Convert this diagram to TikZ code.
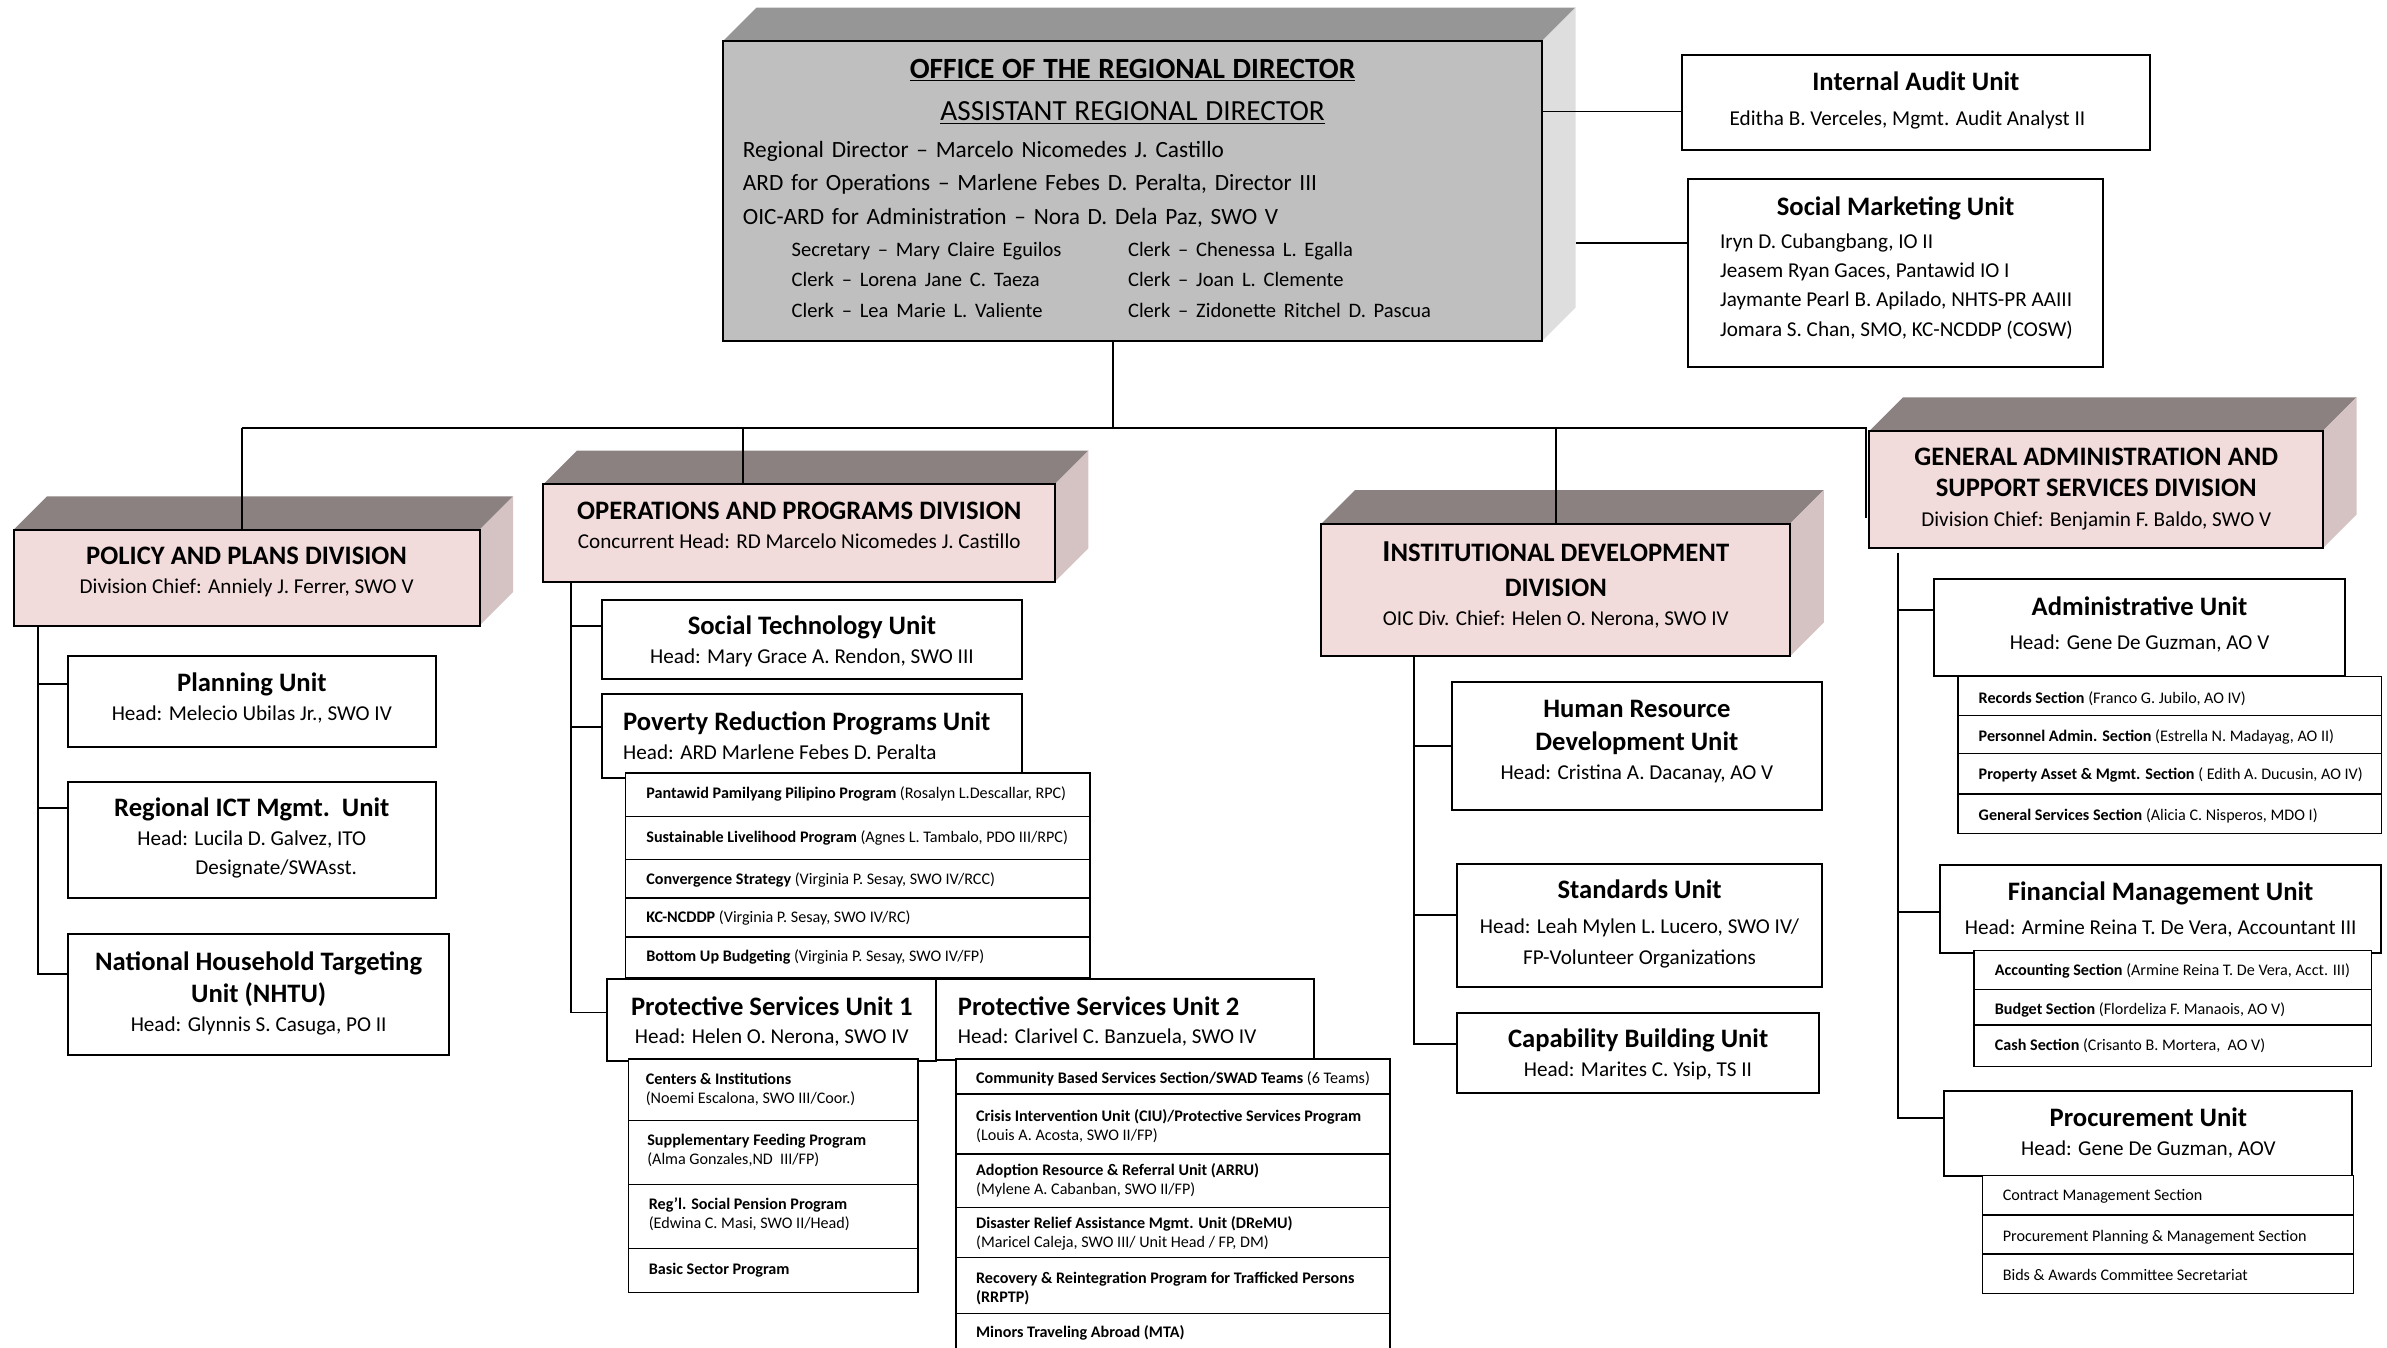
\documentclass[tikz,border=0pt]{standalone}
\usepackage{fontspec}
\setmainfont{Carlito}
\definecolor{ordfront}{HTML}{BFBFBF}
\definecolor{ordtop}{HTML}{969696}
\definecolor{ordside}{HTML}{DEDEDE}
\definecolor{divfront}{HTML}{F2DCDB}
\definecolor{divtop}{HTML}{8C8181}
\definecolor{divside}{HTML}{D5C3C3}
\def\utitle{\fontsize{17.5}{19}\selectfont\bfseries}
\def\uhead{\fontsize{13.9}{19}\selectfont}
\def\usmall{\fontsize{10.6}{12.5}\selectfont}
\def\ordbody{\fontsize{15.3}{22}\selectfont}
\def\ordsub{\fontsize{13.5}{22}\selectfont}
\def\tiefe{22}
\def\quader#1#2#3#4#5#6#7{
	\fill[#6top] (#2,#3) -- ({#2+\tiefe},{#3-\tiefe}) -- ({#4+\tiefe},{#3-\tiefe}) -- (#4,#3) -- cycle;
	\fill[#6side] (#4,#3) -- ({#4+\tiefe},{#3-\tiefe}) -- ({#4+\tiefe},{#5-\tiefe}) -- (#4,#5) -- cycle;
	\node[#6box, minimum width={#4-#2}, minimum height={#5-#3}] (#1) at ({(#2+#4)/2},{(#3+#5)/2}) {};
	\node[#6box text] (#1-t) at ({(#2+#4)/2},#7)
}
\def\kasten#1#2#3#4#5#6#7{
	\node[#6, minimum width={#4-#2}, minimum height={#5-#3}] (#1) at ({(#2+#4)/2},{(#3+#5)/2}) {};
	\node[#6 text] (#1-t) at ({(#2+#4)/2},#7)
}
\def\zeile#1#2#3#4#5#6#7#8{
	\node[#6, minimum width={#4-#2}, minimum height={#5-#3}] (#1) at ({(#2+#4)/2},{(#3+#5)/2}) {};
	\node[#6 text, align=left, anchor=west] (#1-t) at ({#2+#7},#8)
}
\tikzset{
	unitbox/.style={draw, fill=white, line width=1.3pt, inner sep=0pt, outer sep=0pt},
	unitbox text/.style={align=center, inner sep=0pt, font=\uhead},
	sectbox/.style={draw, fill=white, line width=0.9pt, inner sep=0pt, outer sep=0pt},
	sectbox text/.style={align=left, inner sep=0pt, font=\usmall},
	divbox/.style={unitbox, fill=divfront},
	divbox text/.style={unitbox text},
	ordbox/.style={unitbox, fill=ordfront},
	ordbox text/.style={align=left, text width=512pt, inner sep=0pt, font=\ordbody},
	link/.style={line width=1.3pt}
}
\begin{document}
\begin{tikzpicture}[x=1pt,y=-1pt]
\useasboundingbox (0,0) rectangle (1568,885);
\clip (0,0) rectangle (1568,885);
\quader{ord}{475}{27}{1013}{224}{ord}{123.5} {%
\makebox[512pt]{\fontsize{19.3}{22}\selectfont\bfseries\underline{OFFICE OF THE REGIONAL DIRECTOR}}\\[6pt]
\makebox[512pt]{\fontsize{19.2}{22}\selectfont\underline{ASSISTANT REGIONAL DIRECTOR}}\\[2pt]
Regional Director -- Marcelo Nicomedes J. Castillo\\
ARD for Operations -- Marlene Febes D. Peralta, Director III\\
OIC-ARD for Administration -- Nora D. Dela Paz, SWO V\\[-1pt]
{\ordsub\hspace*{32pt}\makebox[221pt][l]{Secretary -- Mary Claire Eguilos}Clerk -- Chenessa L. Egalla}\\[-2pt]
{\ordsub\hspace*{32pt}\makebox[221pt][l]{Clerk -- Lorena Jane C. Taeza}Clerk -- Joan L. Clemente}\\[-2pt]
{\ordsub\hspace*{32pt}\makebox[221pt][l]{Clerk -- Lea Marie L. Valiente}Clerk -- Zidonette Ritchel D. Pascua}};
\kasten{iau}{1105}{36}{1412}{98.5}{unitbox}{66} {{\utitle Internal Audit Unit}\\[3.6pt]Editha B. Verceles, Mgmt. Audit Analyst II\hspace*{11pt}};
\zeile{smu}{1108.7}{117.8}{1381.3}{240.9}{unitbox}{21}{176} {\makebox[230.6pt]{\utitle Social Marketing Unit}\\[3.3pt]
Iryn D. Cubangbang, IO II\\ Jeasem Ryan Gaces, Pantawid IO I\\ Jaymante Pearl B. Apilado, NHTS-PR AAIII\\[0.6pt] Jomara S. Chan, SMO, KC-NCDDP (COSW)};
\quader{ppd}{9}{348}{315}{411}{div}{376} {{\utitle POLICY AND PLANS DIVISION}\\Division Chief: Anniely J. Ferrer, SWO V};
\quader{opd}{357}{318}{693}{382}{div}{345} {{\utitle OPERATIONS AND PROGRAMS DIVISION}\\Concurrent Head: RD Marcelo Nicomedes J. Castillo};
\quader{idd}{868}{344}{1176}{431}{div}{384.5} {{\utitle{\fontsize{20}{19}\selectfont I}NSTITUTIONAL DEVELOPMENT}\\[3.7pt]{\utitle DIVISION}\\[0.5pt]OIC Div. Chief: Helen O. Nerona, SWO IV};
\quader{gassd}{1228}{283}{1526}{360}{div}{321.3} {{\utitle GENERAL ADMINISTRATION AND}\\[1.5pt]{\utitle SUPPORT SERVICES DIVISION}\\[1pt]Division Chief: Benjamin F. Baldo, SWO V};
\kasten{plan}{44.6}{430.8}{286.2}{490.8}{unitbox}{458.5} {{\utitle Planning Unit}\\Head: Melecio Ubilas Jr., SWO IV};
\kasten{ict}{44.6}{513.9}{286.2}{589.9}{unitbox}{550.2} {{\utitle Regional ICT Mgmt.\ \ Unit}\\Head: Lucila D. Galvez, ITO\\\hspace*{32pt}Designate/SWAsst.};
\kasten{nhtu}{44.6}{613.8}{295.2}{693}{unitbox}{652.5} {{\utitle National Household Targeting}\\[1.6pt]{\utitle Unit (NHTU)}\\Head: Glynnis S. Casuga, PO II};
\kasten{stu}{395.5}{393.9}{671.2}{446}{unitbox}{421.4} {{\utitle Social Technology Unit}\\Head: Mary Grace A. Rendon, SWO III};
\zeile{prpu}{395.5}{456}{671.2}{511}{unitbox}{13.7}{483.4} {{\utitle Poverty Reduction Programs Unit}\\Head: ARD Marlene Febes D. Peralta};
\zeile{p4}{411}{507.8}{716}{536.2}{sectbox}{13.4}{521.6} {\textbf{Pantawid Pamilyang Pilipino Program} (Rosalyn L.Descallar, RPC)};
\zeile{slp}{411}{536.2}{716}{564.4}{sectbox}{13.4}{550.5} {\textbf{Sustainable Livelihood Program} (Agnes L. Tambalo, PDO III/RPC)};
\zeile{conv}{411}{564.4}{716}{590}{sectbox}{13.4}{578.2} {\textbf{Convergence Strategy} (Virginia P. Sesay, SWO IV/RCC)};
\zeile{kc}{411}{590}{716}{615.5}{sectbox}{13.4}{603.3} {\textbf{KC-NCDDP} (Virginia P. Sesay, SWO IV/RC)};
\zeile{bub}{411}{615.5}{716}{642}{sectbox}{13.4}{628.8} {\textbf{Bottom Up Budgeting} (Virginia P. Sesay, SWO IV/FP)};
\kasten{psu1}{399}{643.2}{615}{697}{unitbox}{671} {{\utitle Protective Services Unit 1}\\Head: Helen O. Nerona, SWO IV};
\zeile{psu2}{615}{643.2}{863}{696}{unitbox}{14}{671} {{\utitle Protective Services Unit 2}\\Head: Clarivel C. Banzuela, SWO IV};
\zeile{ci}{413}{695.7}{603}{736}{sectbox}{11}{715.4} {\textbf{Centers \& Institutions}\\(Noemi Escalona, SWO III/Coor.)};
\zeile{sfp}{413}{736}{603}{778}{sectbox}{12}{755.7} {\textbf{Supplementary Feeding Program}\\(Alma Gonzales,ND\ \ III/FP)};
\zeile{spp}{413}{778}{603}{820}{sectbox}{13}{797.8} {\textbf{Reg’l. Social Pension Program}\\(Edwina C. Masi, SWO II/Head)};
\zeile{bsp}{413}{820}{603}{849}{sectbox}{13}{834.7} {\textbf{Basic Sector Program}};
\zeile{cbs}{628}{695.7}{913}{718.7}{sectbox}{13}{709} {\textbf{Community Based Services Section/SWAD Teams} (6 Teams)};
\zeile{ciu}{628}{718.7}{913}{758}{sectbox}{13}{739.6} {\textbf{Crisis Intervention Unit (CIU)/Protective Services Program}\\(Louis A. Acosta, SWO II/FP)};
\zeile{arru}{628}{758}{913}{793}{sectbox}{13}{775.2} {\textbf{Adoption Resource \& Referral Unit (ARRU)}\\(Mylene A. Cabanban, SWO II/FP)};
\zeile{dremu}{628}{793}{913}{826}{sectbox}{13}{810.3} {\textbf{Disaster Relief Assistance Mgmt. Unit (DReMU)}\\(Maricel Caleja, SWO III/ Unit Head / FP, DM)};
\zeile{rrptp}{628}{826}{913}{863}{sectbox}{13}{846.7} {\textbf{Recovery \& Reintegration Program for Trafficked Persons}\\\textbf{(RRPTP)}};
\zeile{mta}{628}{863}{913}{895}{sectbox}{13}{875.5} {\textbf{Minors Traveling Abroad (MTA)}};
\kasten{hrdu}{953.6}{448.3}{1196.9}{531.8}{unitbox}{487.2} {{\utitle Human Resource}\\[2.5pt]{\utitle Development Unit}\\Head: Cristina A. Dacanay, AO V};
\kasten{stdu}{957.1}{567.7}{1196.9}{648.1}{unitbox}{606.9} {{\utitle Standards Unit}\\[4pt]Head: Leah Mylen L. Lucero, SWO IV/\\[1.1pt]FP-Volunteer Organizations};
\kasten{cbu}{957}{665.2}{1195}{718}{unitbox}{692.5} {{\utitle Capability Building Unit}\\Head: Marites C. Ysip, TS II};
\kasten{adu}{1270.4}{380.6}{1540.4}{443.8}{unitbox}{410.3} {{\utitle Administrative Unit}\\[3.5pt]Head: Gene De Guzman, AO V};
\zeile{rec}{1286.2}{444.5}{1564.4}{470.1}{sectbox}{13.4}{458.7} {\textbf{Records Section} (Franco G. Jubilo, AO IV)};
\zeile{pas}{1286.2}{470.1}{1564.4}{494.9}{sectbox}{13.4}{483.9} {\textbf{Personnel Admin. Section} (Estrella N. Madayag, AO II)};
\zeile{pams}{1286.2}{494.9}{1564.4}{521.6}{sectbox}{13.4}{509.1} {\textbf{Property Asset \& Mgmt. Section} ( Edith A. Ducusin, AO IV)};
\zeile{gss}{1286.2}{521.6}{1564.4}{547.4}{sectbox}{13.4}{536} {\textbf{General Services Section} (Alicia C. Nisperos, MDO I)};
\kasten{fmu}{1274.6}{568}{1564}{625.8}{unitbox}{597.5} {{\utitle Financial Management Unit}\\[3.3pt]Head: Armine Reina T. De Vera, Accountant III};
\zeile{acc}{1296.7}{624.5}{1557.9}{649.9}{sectbox}{13.5}{637.8} {\textbf{Accounting Section} (Armine Reina T. De Vera, Acct. III)};
\zeile{bud}{1296.7}{649.9}{1557.9}{673.3}{sectbox}{13.5}{663.5} {\textbf{Budget Section} (Flordeliza F. Manaois, AO V)};
\zeile{cash}{1296.7}{673.3}{1557.9}{700.7}{sectbox}{13.5}{687.2} {\textbf{Cash Section} (Crisanto B. Mortera,\ \ AO V)};
\kasten{pu}{1277.2}{716.7}{1545.3}{772.3}{unitbox}{744.5} {{\utitle Procurement Unit}\\Head: Gene De Guzman, AOV};
\zeile{cms}{1302.1}{772.3}{1546}{798.2}{sectbox}{13.3}{785.7} {Contract Management Section};
\zeile{ppms}{1302.1}{798.2}{1546}{823.8}{sectbox}{13.3}{812.8} {Procurement Planning \& Management Section};
\zeile{bac}{1302.1}{823.8}{1546}{849.6}{sectbox}{13.3}{837.8} {Bids \& Awards Committee Secretariat};
\coordinate (bus) at (731,281);
\coordinate (ord-o) at ([xshift=-13pt]ord.south);
\coordinate (ord-r) at ([xshift=22pt]ord.east);
\coordinate (iau-a) at ([yshift=-6pt]iau.west);
\coordinate (smu-a) at ([yshift=20pt]smu.west);
\coordinate (ppd-o) at ([xshift=-3.2pt]ppd.north);
\coordinate (opd-o) at ([xshift=131pt]opd.north west);
\coordinate (gassd-o) at ([xshift=-2pt,yshift=20pt]gassd.south west);
\draw[link] (iau-a -| ord.east) -- (iau-a);
\draw[link] (smu-a -| ord-r) -- (smu-a);
\draw[link] (ord-o) -- (ord-o |- bus);
\draw[link] (ppd-o |- bus) -| (gassd-o);
\foreach \d in {ppd-o,opd-o,idd.north} \draw[link] (\d |- bus) -- (\d);
\coordinate (ppd-l) at ([xshift=16pt]ppd.south west);
\coordinate (plan-a) at ([yshift=11.8pt]plan.west);
\coordinate (ict-a) at ([yshift=21pt]ict.west);
\coordinate (nhtu-a) at ([yshift=13.4pt]nhtu.west);
\draw[link] (ppd-l) |- (nhtu-a);
\foreach \u in {plan,ict} \draw[link] (ppd-l |- \u-a) -- (\u-a);
\coordinate (opd-l) at ([xshift=18pt]opd.south west);
\coordinate (stu-a) at ([yshift=8.8pt]stu.west);
\coordinate (prpu-a) at ([yshift=6pt]prpu.west);
\coordinate (psu1-a) at ([yshift=5pt]psu1.west);
\draw[link] (opd-l) |- (psu1-a);
\foreach \u in {stu,prpu} \draw[link] (opd-l |- \u-a) -- (\u-a);
\coordinate (idd-l) at ([xshift=61pt]idd.south west);
\coordinate (hrdu-a) at (hrdu.west);
\coordinate (stdu-a) at ([yshift=7pt]stdu.west);
\coordinate (cbu-a) at ([yshift=5.8pt]cbu.west);
\draw[link] (idd-l) |- (cbu-a);
\foreach \u in {hrdu,stdu} \draw[link] (idd-l |- \u-a) -- (\u-a);
\coordinate (gassd-l) at ([xshift=18.8pt,yshift=-3pt]gassd.south west);
\coordinate (adu-a) at ([yshift=11.5pt]adu.west);
\coordinate (fmu-a) at ([yshift=-2pt]fmu.west);
\coordinate (pu-a) at ([yshift=9.9pt]pu.west);
\draw[link] (gassd-l) |- (pu-a);
\foreach \u in {adu,fmu} \draw[link] (gassd-l |- \u-a) -- (\u-a);
\end{tikzpicture}
\end{document}
